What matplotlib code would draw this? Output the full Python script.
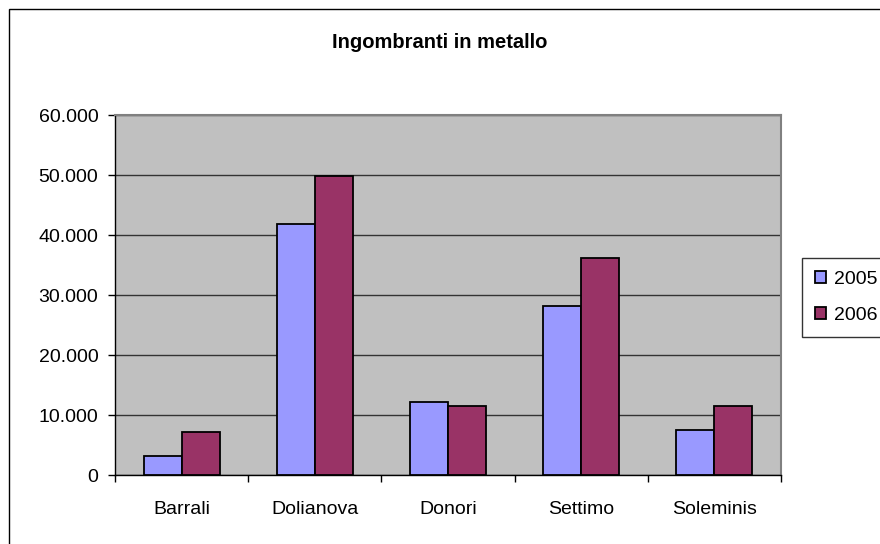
import matplotlib
matplotlib.use("Agg")
import matplotlib.pyplot as plt
import matplotlib.patches as mpatches
from matplotlib.ticker import FuncFormatter, FixedLocator
import numpy as np

plt.rcParams["font.family"] = ["Liberation Sans", "DejaVu Sans"]

comuni   = ["Barrali", "Dolianova", "Donori", "Settimo", "Soleminis"]
val_2005 = [3200, 41900, 12200, 28200, 7500]
val_2006 = [7200, 49900, 11500, 36200, 11500]
anni     = ["2005", "2006"]

COL_2005 = "#9999FF"
COL_2006 = "#993366"
GRIGIO   = "#C0C0C0"
FS       = 14

W, H = 880, 544
fig = plt.figure(figsize=(W / 100, H / 100), dpi=100)

# bordo esterno del grafico (tagliato a destra e in basso come nell'originale)
fig.patches.append(mpatches.Rectangle((9 / W, -0.1), 1.2, 1 - 9 / H + 0.1,
                                      transform=fig.transFigure, fill=False,
                                      edgecolor="black", linewidth=1))

ax = fig.add_axes([115 / W, (H - 475) / H, (781 - 115) / W, (475 - 115) / H])
ax.set_facecolor(GRIGIO)

x = np.arange(len(comuni))
bw = 0.286
ax.bar(x - bw / 2, val_2005, width=bw, color=COL_2005, edgecolor="black",
       linewidth=1.3, label=anni[0], zorder=3)
ax.bar(x + bw / 2, val_2006, width=bw, color=COL_2006, edgecolor="black",
       linewidth=1.3, label=anni[1], zorder=3)

ax.set_xlim(-0.5, len(comuni) - 0.5)
ax.set_ylim(0, 60000)
ax.set_yticks(np.arange(0, 60001, 10000))
ax.yaxis.set_major_formatter(FuncFormatter(lambda v, p: f"{int(v):,}".replace(",", ".")))
ax.yaxis.grid(True, color="#333333", linewidth=1, zorder=1)

ax.set_xticks(x)
ax.set_xticklabels(comuni)
ax.xaxis.set_minor_locator(FixedLocator(np.arange(-0.5, len(comuni), 1.0)))
ax.tick_params(axis="x", which="major", length=0, pad=18.5, labelsize=FS)
ax.tick_params(axis="x", which="minor", length=5, width=1, direction="out", color="black")
ax.tick_params(axis="y", length=5, width=1, direction="out", pad=7, labelsize=FS)

for s in ["top", "right"]:
    ax.spines[s].set_color("#808080")
    ax.spines[s].set_linewidth(1.5)
for s in ["left", "bottom"]:
    ax.spines[s].set_color("black")
    ax.spines[s].set_linewidth(1)

fig.text(440 / W, 1 - 43 / H, "Ingombranti in metallo", ha="center", va="center",
         fontsize=14.5, fontweight="bold")

leg = fig.legend(loc="upper left", bbox_to_anchor=(802 / W, 1 - 258 / H),
                 fontsize=FS, frameon=True, fancybox=False, edgecolor="black",
                 handlelength=0.6, handleheight=0.6, handletextpad=0.4,
                 borderpad=0.65, labelspacing=1.0, borderaxespad=0)
leg.get_frame().set_linewidth(1)

fig.savefig("out.png", dpi=100)
